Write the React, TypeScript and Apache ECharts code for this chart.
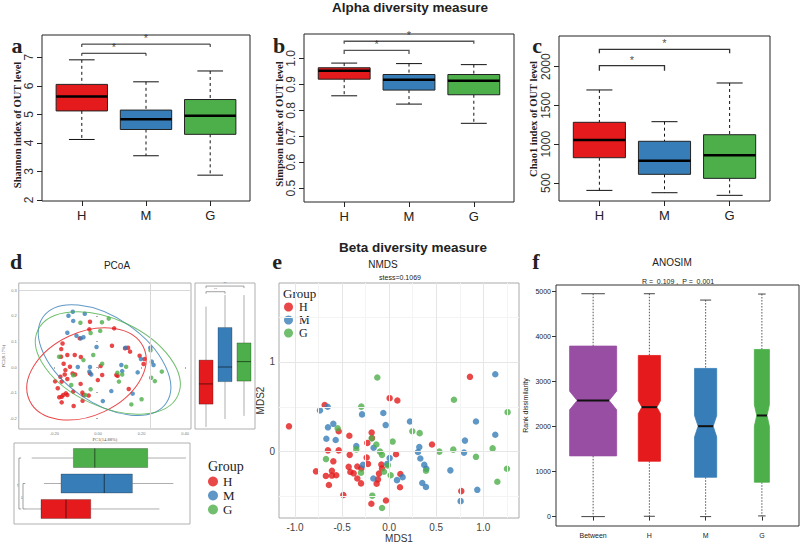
import React, { useEffect, useRef } from 'react';
import * as echarts from 'echarts';

const SANS = "'Liberation Sans', Arial, Helvetica, sans-serif";
const SERIF = "'Liberation Serif', 'Times New Roman', Times, serif";

const groups = ['H', 'M', 'G'];
const groupColors = ['#E41A1C', '#377EB8', '#4DAF4A'];

// Alpha diversity: [lower whisker, Q1, median, Q3, upper whisker] for H, M, G
const shannonStats = [
  [4.12, 5.12, 5.63, 6.05, 6.91],
  [3.55, 4.47, 4.83, 5.15, 6.14],
  [2.87, 4.30, 4.95, 5.52, 6.52],
];
const simpsonStats = [
  [0.856, 0.920, 0.952, 0.964, 0.982],
  [0.824, 0.878, 0.918, 0.938, 0.980],
  [0.750, 0.860, 0.914, 0.938, 0.976],
];
const chao1Stats = [
  [405, 826, 1055, 1283, 1700],
  [375, 612, 787, 1038, 1291],
  [341, 560, 857, 1123, 1790],
];
// significance brackets: [from group, to group, bracket level, tick end]
const shannonSig = [[1, 3, 7.46, 7.36], [1, 2, 7.14, 7.05]];
const simpsonSig = [[1, 3, 1.066, 1.056], [1, 2, 1.031, 1.017]];
const chao1Sig = [[1, 3, 2224, 2173], [1, 2, 2013, 1948]];
const shannonTicks = [2, 3, 4, 5, 6, 7];
const simpsonTicks = [0.5, 0.6, 0.7, 0.8, 0.9, 1.0];
const chao1Ticks = [500, 1000, 1500, 2000];

// PCoA points [PC1, PC2]
const pcoaH = [
  [-0.037, 0.177], [-0.04, 0.147], [-0.084, 0.112], [-0.163, 0.092], [-0.169, 0.07], [-0.17, 0.04],
  [-0.141, 0.047], [-0.107, 0.047], [-0.079, 0.039], [-0.158, 0.013], [-0.15, -0.012], [-0.129, 0.001],
  [-0.117, -0.025], [-0.105, -0.029], [-0.153, -0.029], [-0.173, -0.038], [-0.197, -0.056], [-0.167, -0.057],
  [-0.141, -0.047], [-0.08, -0.066], [-0.037, -0.025], [-0.001, -0.051], [0.012, 0.004], [0.019, -0.031],
  [0.064, 0.083], [0.074, 0.151], [0.124, 0.073], [0.138, 0.075], [0.147, 0.06], [0.191, 0.044],
  [0.213, 0.031], [0.209, 0.012], [0.09, -0.034], [0.084, -0.031], [0.141, -0.086], [-0.185, -0.083],
  [-0.178, -0.118], [-0.167, -0.116], [-0.16, -0.109], [-0.148, -0.103], [-0.167, -0.138], [-0.141, -0.109],
  [-0.114, -0.096], [-0.072, -0.1], [-0.071, -0.132], [-0.067, -0.109], [-0.112, -0.152], [-0.043, -0.111],
];
const pcoaM = [
  [-0.136, 0.2], [-0.116, 0.216], [-0.114, 0.18], [-0.061, 0.208], [-0.141, 0.134], [-0.099, 0.122],
  [-0.079, 0.112], [-0.067, 0.116], [-0.007, 0.078], [-0.093, 0.0], [-0.037, 0.0], [-0.031, -0.029],
  [-0.04, -0.018], [0.022, -0.133], [0.061, -0.094], [0.107, 0.008], [0.111, -0.016], [0.127, 0.075],
  [0.182, -0.021], [0.197, 0.031], [0.24, 0.075], [0.247, 0.021], [0.255, 0.008], [0.159, -0.104],
];
const pcoaG = [
  [-0.081, 0.173], [0.049, 0.189], [0.018, 0.175], [0.01, 0.141], [-0.034, 0.133], [-0.067, 0.027],
  [-0.022, 0.047], [0.089, -0.022], [0.096, -0.057], [0.111, -0.029], [0.129, 0.001], [0.241, 0.065],
  [0.244, -0.042], [0.293, -0.018], [0.261, -0.055], [0.153, -0.146], [0.2, -0.126], [-0.034, -0.087],
  [-0.059, -0.109], [-0.179, 0.04], [-0.123, -0.07], [-0.114, -0.032], [0.019, 0.013],
];
// confidence ellipses: [centre PC1, centre PC2, semi-major, semi-minor (PC1 units), angle deg]
const pcoaEllipses = [
  [-0.053, -0.027, 0.289, 0.191, 25],
  [0.03, 0.027, 0.345, 0.195, -35],
  [0.045, 0.016, 0.355, 0.2, -25],
];
// marginal boxplots: [lower, Q1, median, Q3, upper]
const pc2Stats = [
  [-0.234, -0.145, -0.066, 0.027, 0.236],
  [-0.203, -0.057, 0.0, 0.154, 0.281],
  [-0.191, -0.055, 0.021, 0.094, 0.281],
];
const pc1Stats = [
  [-0.311, -0.24, -0.129, -0.019, 0.286],
  [-0.227, -0.151, 0.041, 0.166, 0.348],
  [-0.281, -0.096, -0.001, 0.234, 0.404],
];
const pc2Sig = [[1, 3, 0.316, 0.308], [1, 2, 0.294, 0.286]];
const pc1Sig = [[1, 3, -0.338, -0.328], [1, 2, -0.32, -0.31]];
const pc1Ticks = [-0.2, 0, 0.2, 0.4];
const pc2Ticks = [-0.2, -0.1, 0, 0.1, 0.2, 0.3];

// NMDS points [MDS1, MDS2]
const nmdsH = [
  [-1.064, 0.282], [-0.777, -0.22], [-0.672, -0.271], [-0.64, -0.372], [-0.608, -0.213], [-0.608, -0.267],
  [-0.562, -0.264], [-0.593, -0.108], [-0.65, 0.014], [-0.536, 0.014], [-0.536, 0.227], [-0.423, 0.177],
  [-0.419, -0.036], [-0.43, -0.17], [-0.412, -0.227], [-0.377, -0.242], [-0.338, -0.166], [-0.338, -0.3],
  [-0.299, -0.354], [-0.296, -0.188], [-0.239, -0.065], [-0.225, -0.137], [-0.232, 0.097], [-0.186, 0.213],
  [-0.182, 0.152], [-0.487, -0.484], [-0.189, -0.581], [-0.133, -0.357], [-0.119, -0.31], [-0.108, -0.245],
  [-0.076, -0.188], [-0.083, -0.144], [-0.034, -0.545], [0.005, 0.596], [0.087, 0.57], [0.073, -0.029],
  [0.119, -0.249], [0.115, -0.397], [0.455, 0.079], [0.858, 0.834], [0.766, -0.44], [-0.685, 0.52],
];
const nmdsM = [
  [-0.735, 0.46], [-0.653, 0.5], [-0.65, 0.271], [-0.593, 0.31], [-0.667, 0.144], [-0.568, 0.13],
  [-0.349, 0.061], [-0.288, 0.415], [-0.062, 0.43], [-0.037, 0.296], [-0.165, 0.043], [0.005, -0.072],
  [-0.02, -0.137], [-0.278, -0.148], [-0.168, -0.3], [0.083, -0.318], [0.143, -0.285], [0.221, 0.336],
  [0.32, 0.051], [0.306, -0.004], [0.331, -0.076], [0.373, -0.148], [0.395, -0.191], [0.352, -0.35],
  [0.391, -0.394], [0.65, -0.209], [0.759, -0.552], [0.795, -0.011], [0.805, 0.123], [0.922, 0.336],
  [0.936, -0.426], [1.127, 0.188], [1.127, 0.863],
];
const nmdsG = [
  [-0.126, 0.827], [-0.296, 0.502], [-0.547, 0.26], [-0.671, -0.083], [-0.349, 0.025], [-0.186, 0.148],
  [-0.136, 0.079], [-0.097, 0.0], [-0.076, -0.036], [-0.016, -0.155], [-0.055, -0.224], [0.016, -0.264],
  [-0.299, -0.235], [-0.179, -0.491], [-0.076, -0.628], [0.037, 0.112], [0.246, 0.227], [0.324, 0.206],
  [0.391, -0.213], [0.533, 0.0], [0.681, 0.022], [0.688, 0.578], [0.922, -0.058], [1.099, 0.036],
  [1.149, -0.336], [1.251, -0.191], [1.258, 0.44],
];
const nmdsXTicks = [-1, -0.5, 0, 0.5, 1];
const nmdsYTicks = [0, 1];
const nmdsMajorX = [-1, -0.5, 0, 0.5, 1];
const nmdsMinorX = [-0.75, -0.25, 0.25, 0.75, 1.25];
const nmdsMajorY = [0, 1];
const nmdsMinorY = [-0.5, 0.5, 1.5];

// ANOSIM: [lower, Q1, median, Q3, upper], notch [low, high], relative box width
const anosimGroups = ['Between', 'H', 'M', 'G'];
const anosimColors = ['#984EA3', '#E41A1C', '#377EB8', '#4DAF4A'];
const anosimStats = [
  [0, 1350, 2581, 3791, 4955],
  [7, 1231, 2433, 3583, 4955],
  [0, 875, 2010, 3294, 4814],
  [15, 764, 2248, 3716, 4948],
];
const anosimNotch = [[2374, 2789], [2292, 2575], [1773, 2245], [2008, 2488]];
const anosimRelWidth = [1, 0.47, 0.47, 0.32];
const anosimTicks = [0, 1000, 2000, 3000, 4000, 5000];

type P2 = number[];
const seg = (p1: P2, p2: P2, style: any) => ({
  type: 'line',
  shape: { x1: p1[0], y1: p1[1], x2: p2[0], y2: p2[1] },
  style,
});

const alphaBox = (params: any, api: any) => {
  const x = api.value(0);
  const lo = api.value(1), q1 = api.value(2), md = api.value(3), q3 = api.value(4), hi = api.value(5);
  const P = (a: number, b: number) => api.coord([a, b]);
  const hw = 0.4, cw = 0.2;
  const tl = P(x - hw, q3), br = P(x + hw, q1);
  const dash = { stroke: '#111', lineWidth: 1, lineDash: [3, 3] };
  const solid = { stroke: '#111', lineWidth: 1 };
  return {
    type: 'group',
    children: [
      seg(P(x, hi), P(x, q3), dash),
      seg(P(x, q1), P(x, lo), dash),
      seg(P(x - cw, hi), P(x + cw, hi), solid),
      seg(P(x - cw, lo), P(x + cw, lo), solid),
      { type: 'rect', shape: { x: tl[0], y: tl[1], width: br[0] - tl[0], height: br[1] - tl[1] },
        style: { fill: groupColors[params.dataIndex], stroke: '#222', lineWidth: 1 } },
      seg(P(x - hw, md), P(x + hw, md), { stroke: '#000', lineWidth: 2.5 }),
    ],
  };
};

// bracket (horizontal, ticks pointing down)
const bracketRender = (color: string, lw: number) => (params: any, api: any) => {
  const x1 = api.value(0), x2 = api.value(1), yl = api.value(2), yt = api.value(3);
  const pts = [api.coord([x1, yt]), api.coord([x1, yl]), api.coord([x2, yl]), api.coord([x2, yt])];
  return { type: 'polyline', shape: { points: pts }, style: { stroke: color, lineWidth: lw, fill: null } };
};
// bracket (vertical, ticks pointing right)
const bracketRenderH = (params: any, api: any) => {
  const y1 = api.value(0), y2 = api.value(1), xl = api.value(2), xt = api.value(3);
  const pts = [api.coord([xt, y1]), api.coord([xl, y1]), api.coord([xl, y2]), api.coord([xt, y2])];
  return { type: 'polyline', shape: { points: pts }, style: { stroke: '#777', lineWidth: 0.7, fill: null } };
};

const starSeries = (axis: number, sig: number[][], text: string, fontSize: number, color: string) => ({
  type: 'scatter', xAxisIndex: axis, yAxisIndex: axis, silent: true, z: 5,
  data: sig.map((s) => [(s[0] + s[1]) / 2, s[2]]),
  symbolSize: 1, itemStyle: { color: 'rgba(0,0,0,0)' },
  label: { show: true, formatter: text, position: 'top', distance: 0, color, fontSize, fontFamily: SANS },
});

const pcBoxV = (params: any, api: any) => {
  const x = api.value(0);
  const lo = api.value(1), q1 = api.value(2), md = api.value(3), q3 = api.value(4), hi = api.value(5);
  const P = (a: number, b: number) => api.coord([a, b]);
  const hw = 0.37;
  const tl = P(x - hw, q3), br = P(x + hw, q1);
  const w = { stroke: '#999', lineWidth: 0.8 };
  return {
    type: 'group',
    children: [
      seg(P(x, hi), P(x, q3), w),
      seg(P(x, q1), P(x, lo), w),
      { type: 'rect', shape: { x: tl[0], y: tl[1], width: br[0] - tl[0], height: br[1] - tl[1] },
        style: { fill: groupColors[params.dataIndex], stroke: 'rgba(0,0,0,0.35)', lineWidth: 0.7 } },
      seg(P(x - hw, md), P(x + hw, md), { stroke: 'rgba(0,0,0,0.55)', lineWidth: 1 }),
    ],
  };
};

const pcBoxH = (params: any, api: any) => {
  const y = api.value(0);
  const lo = api.value(1), q1 = api.value(2), md = api.value(3), q3 = api.value(4), hi = api.value(5);
  const P = (a: number, b: number) => api.coord([a, b]);
  const hh = 0.373;
  const tl = P(q1, y + hh), br = P(q3, y - hh);
  const w = { stroke: '#999', lineWidth: 0.8 };
  return {
    type: 'group',
    children: [
      seg(P(lo, y), P(q1, y), w),
      seg(P(q3, y), P(hi, y), w),
      { type: 'rect', shape: { x: tl[0], y: tl[1], width: br[0] - tl[0], height: br[1] - tl[1] },
        style: { fill: groupColors[params.dataIndex], stroke: 'rgba(0,0,0,0.35)', lineWidth: 0.7 } },
      seg(P(md, y - hh), P(md, y + hh), { stroke: 'rgba(0,0,0,0.55)', lineWidth: 1 }),
    ],
  };
};

const ellipseRender = (params: any, api: any) => {
  const ctr = api.coord([api.value(0), api.value(1)]);
  const unit = api.size([1, 0])[0];
  return {
    type: 'ellipse',
    x: ctr[0],
    y: ctr[1],
    rotation: (api.value(4) * Math.PI) / 180,
    shape: { cx: 0, cy: 0, rx: api.value(2) * unit, ry: api.value(3) * unit },
    style: { fill: 'none', stroke: groupColors[params.dataIndex], lineWidth: 1, opacity: 0.8 },
  };
};

const notchBox = (params: any, api: any) => {
  const i = params.dataIndex;
  const x = api.value(0);
  const lo = api.value(1), q1 = api.value(2), md = api.value(3), q3 = api.value(4), hi = api.value(5);
  const nLo = api.value(6), nHi = api.value(7);
  const hw = 0.418 * api.value(8);
  const nw = hw * 0.68;
  const cw = hw * 0.5;
  const P = (a: number, b: number) => api.coord([a, b]);
  const pts = [
    P(x - hw, q3), P(x + hw, q3), P(x + hw, nHi), P(x + nw, md), P(x + hw, nLo), P(x + hw, q1),
    P(x - hw, q1), P(x - hw, nLo), P(x - nw, md), P(x - hw, nHi),
  ];
  const dot = { stroke: '#555', lineWidth: 1, lineDash: [1.5, 1.5] };
  const cap = { stroke: '#444', lineWidth: 1 };
  return {
    type: 'group',
    children: [
      seg(P(x, hi), P(x, q3), dot),
      seg(P(x, q1), P(x, lo), dot),
      seg(P(x - cw, hi), P(x + cw, hi), cap),
      seg(P(x - cw, lo), P(x + cw, lo), cap),
      { type: 'polygon', shape: { points: pts }, style: { fill: anosimColors[i], stroke: anosimColors[i], lineWidth: 0.8 } },
      seg(P(x - nw, md), P(x + nw, md), { stroke: '#111', lineWidth: 2 }),
    ],
  };
};

const alphaX = (gi: number) => ({
  type: 'value', gridIndex: gi, min: 0.38, max: 3.62,
  axisLine: { show: false }, splitLine: { show: false },
  axisTick: { show: true, customValues: [1, 2, 3], length: 5, lineStyle: { color: '#222' } },
  axisLabel: { customValues: [1, 2, 3], formatter: (v: number) => groups[Math.round(v) - 1], fontSize: 13, color: '#222', margin: 8, fontFamily: SANS },
});
const alphaY = (gi: number, min: number, max: number, ticks: number[], fmt: (v: number) => string) => ({
  type: 'value', gridIndex: gi, min, max,
  axisLine: { show: false }, splitLine: { show: false },
  axisTick: { show: true, customValues: ticks, length: 5, lineStyle: { color: '#222' } },
  axisLabel: { customValues: ticks, rotate: 90, formatter: fmt, fontSize: 12, color: '#333', margin: 7, fontFamily: SANS },
});

const smallAxis = (gi: number, min: number, max: number, ticks: number[] | null, fmt: any, name?: string) => ({
  type: 'value', gridIndex: gi, min, max,
  axisLine: { show: false }, splitLine: { show: false },
  axisTick: ticks ? { show: true, customValues: ticks, length: 2, lineStyle: { color: '#aaa' } } : { show: false },
  axisLabel: ticks ? { customValues: ticks, formatter: fmt, fontSize: 4, color: '#777', margin: 2 } : { show: false },
  name: name || '', nameLocation: 'middle', nameGap: name ? 8 : 0,
  nameTextStyle: { fontSize: 4.5, color: '#555', fontFamily: SERIF },
});

const gridLine = (arr: number[], key: string, color: string) =>
  arr.map((v) => ({ [key]: v, lineStyle: { color, width: 1, type: 'solid' } }));

const txt = (text: string, x: number, y: number, font: string, align = 'center', rotation = 0) => ({
  type: 'text', x, y, rotation,
  style: { text, font, fill: '#222', textAlign: align, textVerticalAlign: 'middle', align, verticalAlign: 'middle' },
});

const letterFont = `bold 22px ${SERIF}`;
const yNameFont = `bold 10.5px ${SERIF}`;

export default function App() {
  const ref = useRef<HTMLDivElement>(null);
  useEffect(() => {
    if (!ref.current) return;
    const chart = echarts.init(ref.current, null, { renderer: 'svg' });
    const boxData = (stats: number[][]) => stats.map((r, i) => [i + 1, ...r]);
    const option: any = {
      animation: false,
      backgroundColor: '#fff',
      textStyle: { fontFamily: SANS },
      grid: [
        { left: 42, top: 35, width: 208, height: 166, show: true, borderColor: '#222', borderWidth: 1, backgroundColor: 'transparent' },
        { left: 304, top: 34, width: 210, height: 168, show: true, borderColor: '#222', borderWidth: 1, backgroundColor: 'transparent' },
        { left: 559, top: 36, width: 211, height: 165, show: true, borderColor: '#222', borderWidth: 1, backgroundColor: 'transparent' },
        { left: 13, top: 283, width: 178, height: 146, show: true, borderColor: '#b0b0b0', borderWidth: 1, backgroundColor: 'transparent' },
        { left: 195, top: 283, width: 60, height: 146, show: true, borderColor: '#b0b0b0', borderWidth: 1, backgroundColor: 'transparent' },
        { left: 14, top: 443, width: 176, height: 81, show: true, borderColor: '#b0b0b0', borderWidth: 1, backgroundColor: 'transparent' },
        { left: 279, top: 283, width: 240, height: 242, show: true, borderColor: '#aaa', borderWidth: 1, backgroundColor: 'transparent' },
        { left: 556, top: 285, width: 243, height: 241, show: true, borderColor: '#333', borderWidth: 1, backgroundColor: 'transparent' },
      ],
      xAxis: [
        alphaX(0), alphaX(1), alphaX(2),
        smallAxis(3, -0.364, 0.427, pc1Ticks, (v: number) => v.toFixed(2), 'PC1(14.88%)'),
        smallAxis(4, 0.42, 3.58, null, null),
        smallAxis(5, -0.36, 0.422, null, null),
        {
          type: 'value', gridIndex: 6, min: -1.17, max: 1.379,
          axisLine: { show: false }, splitLine: { show: false },
          axisTick: { show: true, customValues: nmdsXTicks, length: 3, lineStyle: { color: '#444' } },
          axisLabel: { customValues: nmdsXTicks, formatter: (v: number) => v.toFixed(1), fontSize: 10, color: '#444', margin: 4 },
          name: 'MDS1', nameLocation: 'middle', nameGap: 15, nameTextStyle: { fontSize: 10, color: '#333' },
        },
        {
          type: 'value', gridIndex: 7, min: 0.34, max: 4.66,
          axisLine: { show: false }, splitLine: { show: false },
          axisTick: { show: true, customValues: [1, 2, 3, 4], length: 4, lineStyle: { color: '#333' } },
          axisLabel: { customValues: [1, 2, 3, 4], formatter: (v: number) => anosimGroups[Math.round(v) - 1], fontSize: 7, color: '#222', margin: 6 },
        },
      ],
      yAxis: [
        alphaY(0, 1.965, 7.78, shannonTicks, (v: number) => String(Math.round(v))),
        alphaY(1, 0.447, 1.094, simpsonTicks, (v: number) => v.toFixed(1)),
        alphaY(2, 268, 2396, chao1Ticks, (v: number) => String(Math.round(v))),
        smallAxis(3, -0.242, 0.328, pc2Ticks, (v: number) => v.toFixed(1), 'PC2(8.17%)'),
        smallAxis(4, -0.242, 0.328, null, null),
        smallAxis(5, 0.41, 3.59, null, null),
        {
          type: 'value', gridIndex: 6, min: -0.74, max: 1.88,
          axisLine: { show: false }, splitLine: { show: false },
          axisTick: { show: true, customValues: nmdsYTicks, length: 3, lineStyle: { color: '#444' } },
          axisLabel: { customValues: nmdsYTicks, formatter: (v: number) => String(Math.round(v)), fontSize: 10, color: '#444', margin: 4 },
          name: 'MDS2', nameLocation: 'middle', nameGap: 12, nameTextStyle: { fontSize: 10, color: '#333' },
        },
        {
          type: 'value', gridIndex: 7, min: -209, max: 5149,
          axisLine: { show: false }, splitLine: { show: false },
          axisTick: { show: true, customValues: anosimTicks, length: 4, lineStyle: { color: '#333' } },
          axisLabel: { customValues: anosimTicks, formatter: (v: number) => String(Math.round(v)), fontSize: 7, color: '#222', margin: 5 },
          name: 'Rank dissimilarity', nameLocation: 'middle', nameGap: 27, nameTextStyle: { fontSize: 7, color: '#222' },
        },
      ],
      legend: [
        {
          data: groups, left: 284, top: 301, orient: 'vertical', icon: 'circle', itemWidth: 9, itemHeight: 9,
          itemGap: 1, padding: 0, selectedMode: false,
          textStyle: { fontFamily: SERIF, fontSize: 12, lineHeight: 12, color: '#222', padding: [0, 0, 0, 1] },
        },
        {
          data: groups, left: 208, top: 475, orient: 'vertical', icon: 'circle', itemWidth: 10, itemHeight: 10,
          itemGap: 1, padding: 0, selectedMode: false,
          textStyle: { fontFamily: SERIF, fontSize: 13, lineHeight: 12, color: '#222' },
        },
      ],
      series: [
        { type: 'custom', xAxisIndex: 0, yAxisIndex: 0, renderItem: alphaBox, data: boxData(shannonStats), silent: true },
        { type: 'custom', xAxisIndex: 0, yAxisIndex: 0, renderItem: bracketRender('#222', 1), data: shannonSig, silent: true },
        starSeries(0, shannonSig, '*', 11, '#222'),
        { type: 'custom', xAxisIndex: 1, yAxisIndex: 1, renderItem: alphaBox, data: boxData(simpsonStats), silent: true },
        { type: 'custom', xAxisIndex: 1, yAxisIndex: 1, renderItem: bracketRender('#555', 1.3), data: simpsonSig, silent: true },
        starSeries(1, simpsonSig, '*', 11, '#222'),
        { type: 'custom', xAxisIndex: 2, yAxisIndex: 2, renderItem: alphaBox, data: boxData(chao1Stats), silent: true },
        { type: 'custom', xAxisIndex: 2, yAxisIndex: 2, renderItem: bracketRender('#333', 1.3), data: chao1Sig, silent: true },
        starSeries(2, chao1Sig, '*', 11, '#222'),
        {
          type: 'scatter', xAxisIndex: 3, yAxisIndex: 3, data: [], silent: true, z: 1,
          markLine: {
            silent: true, symbol: 'none', label: { show: false },
            data: [{ xAxis: 0.24, lineStyle: { color: '#d8d8d8', width: 1, type: 'solid' } }, { yAxis: 0.3, lineStyle: { color: '#d8d8d8', width: 1, type: 'solid' } }],
          },
        },
        { type: 'custom', xAxisIndex: 3, yAxisIndex: 3, renderItem: ellipseRender, data: pcoaEllipses, silent: true, z: 3 },
        { type: 'scatter', name: 'H', xAxisIndex: 3, yAxisIndex: 3, data: pcoaH, symbolSize: 4.5, itemStyle: { color: groupColors[0] }, silent: true, z: 2 },
        { type: 'scatter', name: 'M', xAxisIndex: 3, yAxisIndex: 3, data: pcoaM, symbolSize: 4.5, itemStyle: { color: groupColors[1] }, silent: true, z: 2 },
        { type: 'scatter', name: 'G', xAxisIndex: 3, yAxisIndex: 3, data: pcoaG, symbolSize: 4.5, itemStyle: { color: groupColors[2] }, silent: true, z: 2 },
        { type: 'custom', xAxisIndex: 4, yAxisIndex: 4, renderItem: pcBoxV, data: boxData(pc2Stats), silent: true },
        { type: 'custom', xAxisIndex: 4, yAxisIndex: 4, renderItem: bracketRender('#777', 0.7), data: pc2Sig, silent: true },
        starSeries(4, pc2Sig, '**', 4, '#555'),
        { type: 'custom', xAxisIndex: 5, yAxisIndex: 5, renderItem: pcBoxH, data: boxData(pc1Stats), silent: true },
        { type: 'custom', xAxisIndex: 5, yAxisIndex: 5, renderItem: bracketRenderH, data: pc1Sig, silent: true },
        {
          type: 'scatter', xAxisIndex: 5, yAxisIndex: 5, silent: true, z: 5,
          data: pc1Sig.map((s) => [s[2], (s[0] + s[1]) / 2]),
          symbolSize: 1, itemStyle: { color: 'rgba(0,0,0,0)' },
          label: { show: true, formatter: '**', position: 'left', distance: 0, rotate: 90, color: '#555', fontSize: 4 },
        },
        {
          type: 'scatter', xAxisIndex: 6, yAxisIndex: 6, data: [], silent: true, z: 1,
          markLine: {
            silent: true, symbol: 'none', label: { show: false },
            data: [
              ...gridLine(nmdsMinorX, 'xAxis', '#f4f4f4'),
              ...gridLine(nmdsMinorY, 'yAxis', '#f4f4f4'),
              ...gridLine(nmdsMajorX, 'xAxis', '#e6e6e6'),
              ...gridLine(nmdsMajorY, 'yAxis', '#e6e6e6'),
            ],
          },
        },
        { type: 'scatter', name: 'H', xAxisIndex: 6, yAxisIndex: 6, data: nmdsH, symbolSize: 6.5, itemStyle: { color: groupColors[0] }, silent: true, z: 2 },
        { type: 'scatter', name: 'M', xAxisIndex: 6, yAxisIndex: 6, data: nmdsM, symbolSize: 6.5, itemStyle: { color: groupColors[1] }, silent: true, z: 2 },
        { type: 'scatter', name: 'G', xAxisIndex: 6, yAxisIndex: 6, data: nmdsG, symbolSize: 6.5, itemStyle: { color: groupColors[2] }, silent: true, z: 2 },
        {
          type: 'custom', xAxisIndex: 7, yAxisIndex: 7, renderItem: notchBox, silent: true,
          data: anosimStats.map((r, i) => [i + 1, ...r, anosimNotch[i][0], anosimNotch[i][1], anosimRelWidth[i]]),
        },
      ],
      graphic: [
        txt('Alpha diversity measure', 410, 7, `bold 13.5px ${SANS}`),
        txt('Beta diversity measure', 413, 247, `bold 13.5px ${SANS}`),
        txt('a', 17, 45, letterFont),
        txt('b', 279, 45, letterFont),
        txt('c', 537, 45, letterFont),
        txt('d', 16, 261, letterFont),
        txt('e', 277, 261, letterFont),
        txt('f', 536, 261, letterFont),
        txt('Shannon index of OUT level', 17, 125, yNameFont, 'center', Math.PI / 2),
        txt('Simpson index of OUT level', 279, 124, yNameFont, 'center', Math.PI / 2),
        txt('Chao1 index of OUT level', 533, 119, yNameFont, 'center', Math.PI / 2),
        txt('PCoA', 117, 265, `10px ${SANS}`),
        txt('NMDS', 383, 264, `10px ${SANS}`),
        txt('stess=0.1069', 400, 277, `7px ${SANS}`),
        txt('ANOSIM', 672, 262, `10px ${SANS}`),
        txt('R =  0.109 ,  P =  0.001', 678, 281, `7px ${SANS}`),
        txt('Group', 283, 293, `13px ${SERIF}`, 'left'),
        txt('Group', 208, 466, `14px ${SERIF}`, 'left'),
      ],
    };
    chart.setOption(option);
    return () => chart.dispose();
  }, []);
  return <div ref={ref} style={{ position: 'absolute', left: 0, top: 0, width: 800, height: 544 }} />;
}
